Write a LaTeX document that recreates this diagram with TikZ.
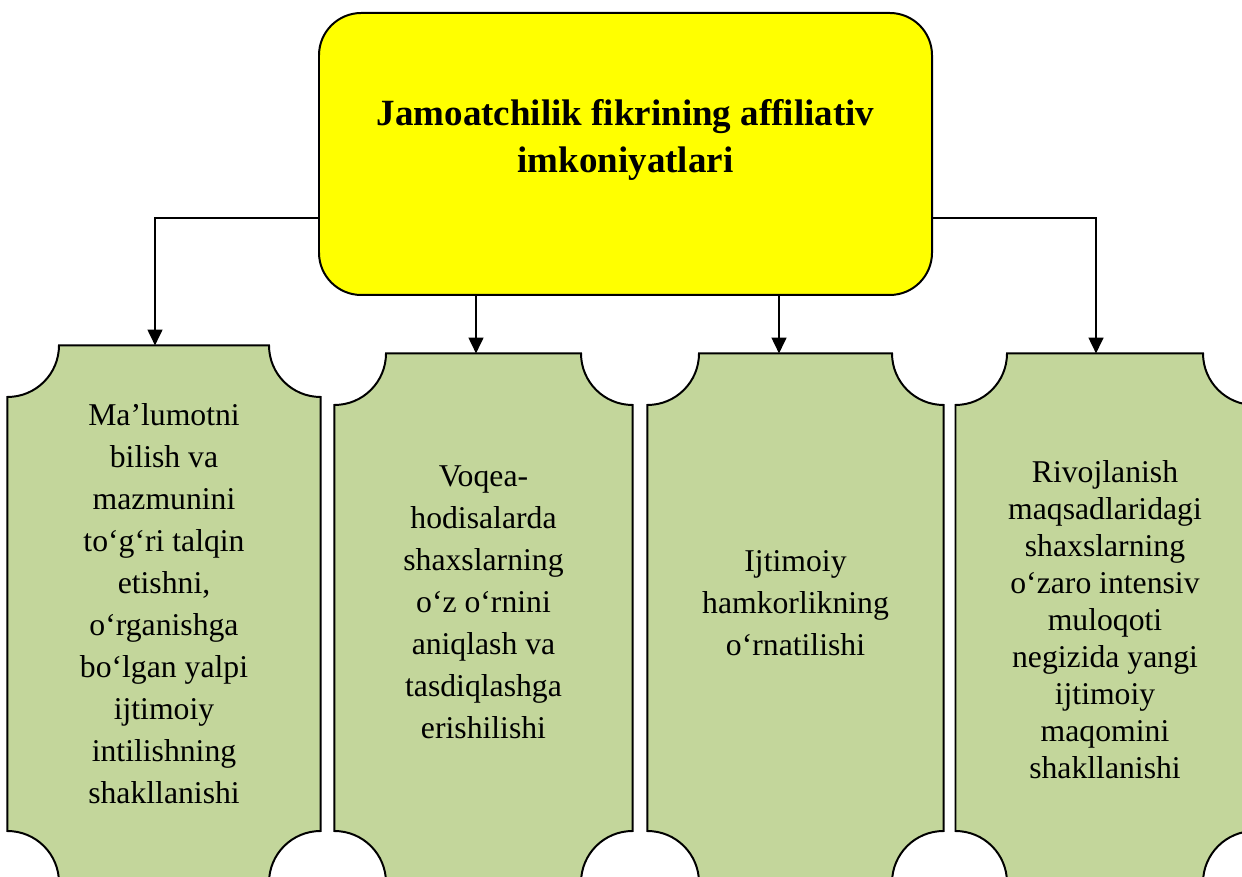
\documentclass[tikz,border=0pt]{standalone}
\usepackage{fontspec}
\setmainfont{Liberation Serif}
\usepackage{tikz}
\usetikzlibrary{ arrows.meta, calc, fit, positioning }
\definecolor{plaquegreen}{HTML}{C3D69B}
\definecolor{headyellow}{HTML}{FFFF00}
\newcommand{\plr}{19.5pt} % radius of the cut-out corners
\newcommand{\drawplaque}[1]{%
  \path[plaque] ([yshift=-\plr]#1.north west) -- ([yshift=\plr]#1.south west)
    arc[start angle=90, end angle=0, radius=\plr] -- ([xshift=-\plr]#1.south east)
    arc[start angle=180, end angle=90, radius=\plr] -- ([yshift=-\plr]#1.north east)
    arc[start angle=270, end angle=180, radius=\plr] -- ([xshift=\plr]#1.north west)
    arc[start angle=0, end angle=-90, radius=\plr] -- cycle;}
\tikzset{
>={Triangle[width=5.6pt,length=6pt]}, % filled arrow heads
every node/.style={inner sep=1pt},
headbox/.style={draw, fill=headyellow, rounded corners=16pt, line width=0.75pt, inner sep=0pt},
plaquebox/.style={inner sep=0pt}, % invisible frame, the outline is drawn by \drawplaque
plaque/.style={draw, fill=plaquegreen, line width=0.75pt},
headlbl/.style={align=center, font=\fontsize{14}{17.8}\selectfont\bfseries},
lbl/.style={align=center, font=\fontsize{12}{15.9}\selectfont},
tightlbl/.style={align=center, font=\fontsize{12}{14}\selectfont}, % last box has less leading
conn/.style={->, line width=0.75pt},
}
\begin{document}
\begin{tikzpicture}[x=0.3785pt, y=0.3785pt]
  \useasboundingbox (0,0) rectangle (1242,876);
  \clip (0,0) rectangle (1242,876);

  % the four plaques run past the lower edge of the page
  \node[plaquebox, fit={(8,-6) (320,530)}] (b1) {};
  \node[plaquebox, fit={(335,-6) (632,522)}] (b2) {};
  \node[plaquebox, fit={(648,-6) (943,522)}] (b3) {};
  \node[plaquebox, fit={(956,-6) (1254,522)}] (b4) {};
  \drawplaque{b1}
  \drawplaque{b2}
  \drawplaque{b3}
  \drawplaque{b4}

  \coordinate (a1) at ($(b1.north)+(-9,0)$);
  \coordinate (a2) at ($(b2.north)+(-7.5,0)$);
  \coordinate (a3) at ($(b3.north)+(-16.5,0)$);
  \coordinate (a4) at ($(b4.north)+(-9,0)$);

  \node[headbox, fit={(319,581) (932,863)}] (head) {};
  \node[headlbl] (title) at (625.5,736) {Jamoatchilik fikrining affiliativ\\imkoniyatlari};

  \draw[conn] ($(head.west)+(0,-64)$) -| (a1);
  \draw[conn] ($(head.east)+(0,-64)$) -| (a4);
  \draw[conn] (a2 |- head.south) -- (a2);
  \draw[conn] (a3 |- head.south) -- (a3);

  \node[lbl] (t1) at (164,272) {Ma’lumotni\\bilish va\\mazmunini\\to‘g‘ri talqin\\etishni,\\o‘rganishga\\bo‘lgan yalpi\\ijtimoiy\\intilishning\\shakllanishi};
  \node[lbl] (t2) at (483.5,274) {Voqea-\\hodisalarda\\shaxslarning\\o‘z o‘rnini\\aniqlash va\\tasdiqlashga\\erishilishi};
  \node[lbl] (t3) at (795.5,273) {Ijtimoiy\\hamkorlikning\\o‘rnatilishi};
  \node[tightlbl] (t4) at (1105,256) {Rivojlanish\\maqsadlaridagi\\shaxslarning\\o‘zaro intensiv\\muloqoti\\negizida yangi\\ijtimoiy\\maqomini\\shakllanishi};
\end{tikzpicture}
\end{document}
